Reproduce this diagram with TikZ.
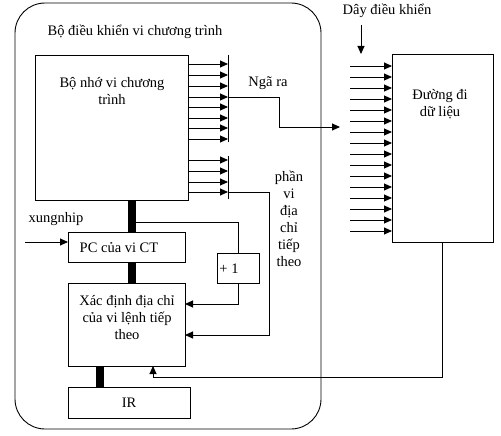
\documentclass[tikz,border=0pt]{standalone}
\usepackage{fontspec}
\setmainfont{Liberation Serif}
\usetikzlibrary{arrows.meta, calc, positioning}

\begin{document}
\begin{tikzpicture}[x=1pt, y=-1pt,
  box/.style={draw, line width=0.9pt, inner sep=0pt, outer sep=0pt, align=center, font=\fontsize{14.5}{17}\selectfont},
  txt/.style={inner sep=0pt, align=center, font=\fontsize{14.5}{17}\selectfont},
  arr/.style={-{Triangle[length=8pt, width=7pt]}, line width=0.9pt},
  wire/.style={line width=0.9pt},
  bus/.style={line width=8pt}
]
  \useasboundingbox (0,0) rectangle (501,436);

  % micro-program controller
  \node[box, rounded corners=30pt, minimum width=306pt, minimum height=426pt] (ctrl) at (168,216) {};
  \node[txt] (ctrltitle) at (135,32) {Bộ điều khiển vi chương trình};

  \node[box, minimum width=153pt, minimum height=145pt] (mem) at (111.5,127.5) {};
  \node[txt] (memtext) at (112,91.5) {Bộ nhớ vi  chương\\trình};
  \node[box, minimum width=117pt, minimum height=30pt] (pc) at (126.5,247) {};
  \node[txt] (pctext) at (119,248) {PC của vi CT};
  \node[box, minimum width=117pt, minimum height=83pt] (sel) at (126.5,324.5) {};
  \node[txt] (seltext) at (127,318) {Xác định địa chỉ\\của vi lệnh tiếp\\theo};
  \node[box, minimum width=122pt, minimum height=31pt] (ir) at (129,402.5) {IR};
  \node[box, minimum width=42pt, minimum height=30pt] (plus) at (238,268) {};
  \node[txt] (plustext) at (229,269) {+ 1};

  % data path
  \node[box, minimum width=101pt, minimum height=188pt] (dp) at (442.5,148) {};
  \node[txt] (dptext) at (440,104.5) {Đường đi\\dữ liệu};

  % labels
  \node[txt] (ngara) at (268,83) {Ngã ra};
  \node[txt] (nexttext) at (289,219) {phần\\vi\\địa\\chỉ\\tiếp\\theo};
  \node[txt] (ctltext) at (387,11) {Dây điều khiển};
  \node[txt] (clktext) at (56,219) {xungnhip};

  \coordinate (ctltop) at (228,55);
  \coordinate (ctlbot) at (228,142);
  \coordinate (nxtop) at (228,156);
  \coordinate (nxbot) at (228,199);
  \coordinate (turn1) at (279,127);
  \coordinate (dpin) at (340,127);
  \coordinate (turn2) at (269,335);
  \coordinate (tap) at (132,222);
  \coordinate (plusin) at (185,304);
  \coordinate (irbus) at (100,376);
  \coordinate (clk) at (25,242);
  \coordinate (ret) at (153,377);
  \coordinate (ctlin) at (361,25);
  \coordinate (dpfan) at (350,66);

  % control word fan out
  \draw[wire] (ctltop) -- (ctlbot);
  \draw[wire] (nxtop) -- (nxbot);
  \foreach \y in {9,20,31,42,52,63,73,84,105,116,127,137}
    \draw[arr] ($(mem.north east)+(0,\y)$) -- ($(ctltop)+(0,\y)$);

  \draw[arr] ($(ctltop)+(0,42)$) -| (turn1) -- (dpin);
  \draw[arr] ($(ctltop)+(0,137)$) -| (turn2) -- (turn2 -| sel.east);

  % buses inside controller
  \draw[bus] (tap |- mem.south) -- (tap |- pc.north);
  \draw[bus] (tap |- pc.south) -- (tap |- sel.north);
  \draw[bus] (irbus |- sel.south) -- (irbus |- ir.north);
  \draw[wire] (tap) -| (plus.north);
  \draw[arr] (plus.south) |- (plusin);
  \draw[arr] (clk) -- (clk -| pc.west);

  % data path inputs
  \draw[arr] (ctlin) -- (ctlin |- dp.north);
  \foreach \i in {0,...,15}
    \draw[arr] ($(dpfan)+(0,11*\i)$) -- ($(dp.north west)+(0,12+11*\i)$);
  \draw[arr] (dp.south) |- (ret) -- (ret |- sel.south);
\end{tikzpicture}
\end{document}
